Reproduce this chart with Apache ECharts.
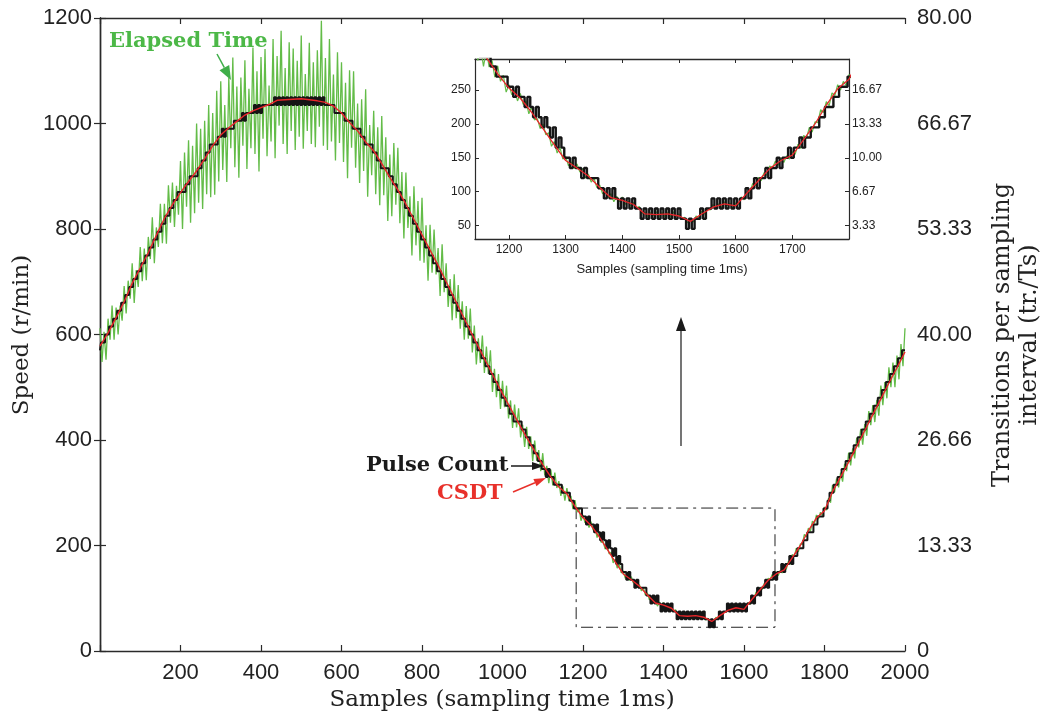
<!DOCTYPE html>
<html><head><meta charset="utf-8">
<script src="https://cdn.jsdelivr.net/npm/echarts@6/dist/echarts.min.js"></script>
<style>html,body{margin:0;padding:0;background:#fff}#c{width:1046px;height:717px}</style>
</head><body><div id="c"></div>
<script>
// ---- data (samples every STEP ms; CSDT every CSDT_STEP ms) ----
const STEP = 5;
const CSDT_STEP = 20;
const elapsedTime = [
612,548,605,552,630,590,655,590,651,600,655,626,692,640,702,668,735,660,722,690,766,
701,763,703,785,743,822,735,803,766,848,773,848,772,883,812,888,804,882,827,929,
800,945,842,968,812,958,830,1000,850,990,838,1005,866,1035,860,1020,865,1062,890,1080,
912,1035,889,1087,953,1125,917,1070,897,1087,958,1120,914,1066,953,1144,942,1099,909,1126,
971,1141,938,1072,966,1160,934,1128,996,1176,961,1105,942,1154,986,1142,950,1119,975,1167,
952,1094,986,1153,961,1116,955,1139,994,1195,958,1124,950,1160,966,1093,930,1135,963,1116,
927,1077,896,1101,954,1099,916,1038,887,1046,910,1065,861,997,902,1024,866,993,845,1014,
864,974,815,941,824,963,846,954,811,908,782,907,802,862,750,881,769,853,740,859,
736,807,702,808,717,799,714,764,673,771,680,735,652,705,627,714,631,694,611,663,
590,654,592,649,566,617,543,593,546,598,527,577,525,570,491,535,481,525,459,512,
462,503,441,475,423,467,424,460,405,429,387,425,383,407,360,399,361,381,341,375,
333,351,318,344,314,338,309,322,294,312,285,309,284,294,269,286,263,272,247,258,
243,250,234,245,229,234,215,225,206,208,193,200,184,187,167,174,157,165,148,152,
138,144,134,141,129,134,120,126,114,120,106,110,97,100,91,97,85,93,85,92,
81,86,78,84,76,78,68,69,63,69,64,70,63,69,63,69,63,70,63,67,
59,62,54,58,55,64,62,71,67,75,73,81,75,82,77,85,79,83,76,83,
81,92,88,100,98,112,109,121,116,128,124,138,135,145,139,150,143,153,148,159,
155,170,164,183,179,195,188,203,202,221,217,233,227,246,242,258,250,263,257,273,
267,290,281,315,301,327,310,338,321,355,341,376,352,384,365,404,386,421,391,430,
408,455,428,466,434,476,446,503,466,510,479,538,500,547,500,560,515,582,540,612
];
const pulseCount = [
570,585,585,600,600,615,615,630,630,645,645,660,660,675,675,690,690,705,705,720,720,
735,735,750,750,765,765,780,780,795,795,810,810,825,825,840,840,855,855,870,870,
870,870,885,885,900,900,900,900,915,915,930,930,945,945,960,960,960,960,975,975,
990,975,990,990,990,990,1005,1005,1005,1005,1020,1005,1020,1020,1020,1020,1035,1020,1035,1020,
1035,1035,1035,1035,1035,1035,1050,1035,1050,1035,1050,1035,1050,1035,1050,1035,1050,1035,1050,1035,
1050,1035,1050,1035,1050,1035,1050,1035,1050,1035,1050,1035,1035,1035,1035,1035,1020,1020,1020,1020,
1020,1005,1005,1005,1005,990,990,990,990,975,975,960,960,960,960,945,945,930,930,915,
915,915,915,900,900,885,885,870,870,855,855,840,840,825,825,810,810,795,795,780,
780,765,765,750,750,735,735,720,720,705,705,690,690,675,675,660,660,645,645,630,
630,615,615,600,600,585,585,570,570,555,555,540,540,525,525,510,510,495,495,480,
480,465,465,450,450,435,435,435,435,420,420,405,405,390,390,375,375,360,360,345,
345,330,345,330,330,315,315,315,315,300,300,300,300,285,285,270,270,270,270,255,
255,240,255,240,240,225,240,225,210,225,210,195,210,195,180,195,165,180,165,150,
150,135,150,135,135,120,135,120,120,120,120,105,105,90,105,90,105,90,75,90,
75,90,75,90,75,75,60,75,60,75,60,75,60,75,60,75,60,75,60,75,
60,60,45,60,45,60,60,75,60,75,75,90,75,90,75,90,75,90,75,90,
75,90,90,105,90,105,120,105,120,120,135,120,135,135,150,135,150,150,165,150,
165,165,180,165,180,180,195,195,195,210,210,225,225,225,240,240,255,255,255,270,
270,285,300,300,315,315,330,330,345,345,360,360,375,375,390,390,405,405,420,420,
435,435,450,450,465,465,480,480,495,495,510,510,525,525,540,540,555,555,570,570
];
const csdt = [
578,603,632,662,697,726,755,788,820,846,
869,890,910,933,958,978,992,1004,1016,1024,
1030,1036,1044,1045,1046,1047,1045,1043,1040,1033,
1020,1002,986,965,948,924,898,874,847,818,
789,760,731,700,669,638,607,577,547,517,
488,460,432,405,379,353,330,311,298,274,
253,238,217,193,169,146,135,123,106,91,
87,81,67,66,67,64,56,67,77,82,
79,98,116,134,146,154,177,200,228,252,
266,302,330,358,388,418,448,478,508,537,
567
];
const speedTicks = [0,200,400,600,800,1000,1200];
const transLabels = ['0','13.33','26.66','40.00','53.33','66.67','80.00'];
const insetXTicks = [1200,1300,1400,1500,1600,1700];
const insetSpeedTicks = [50,100,150,200,250];
const insetTransLabels = ['3.33','6.67','10.00','13.33','16.67'];
const zoomBoxX = [1183,1677];
const zoomBoxY = [45,271];

// ---- chart ----
const toPairs = (arr, step) => arr.map((v,i)=>[i*step, v]);
const gData = toPairs(elapsedTime, STEP);
const bData = toPairs(pulseCount, STEP);
const rData = toPairs(csdt, CSDT_STEP);

const AX = '#2a2a2a';
const SANS = 'Liberation Sans, Arial, Helvetica, sans-serif';
const SERIF = 'DejaVu Serif, serif';
const GREEN = '#63bc48', BLACK = '#151515', RED = '#e8262a';
const plain = v => String(v);

function xAx(grid, min, max, pos, opts){
  return Object.assign({gridIndex:grid, type:'value', min, max, position:pos,
    axisLine:{show:true,onZero:false,lineStyle:{color:AX,width:1.4}},
    splitLine:{show:false}}, opts);
}
const chart = echarts.init(document.getElementById('c'));
const mainTick = {inside:true,length:6,lineStyle:{color:AX,width:1.2}};
const insTick = {inside:true,length:4,lineStyle:{color:AX,width:1}};

function arrow(x1,y1,x2,y2,color,hl,hw,lw){
  const a=Math.atan2(y2-y1,x2-x1);
  const bx=x2-hl*Math.cos(a), by=y2-hl*Math.sin(a);
  const px=-Math.sin(a)*hw/2, py=Math.cos(a)*hw/2;
  return [{type:'line',z:100,shape:{x1,y1,x2:bx,y2:by},style:{stroke:color,lineWidth:lw}},
          {type:'polygon',z:100,shape:{points:[[x2,y2],[bx+px,by+py],[bx-px,by-py]]},style:{fill:color}}];
}
function txt(x,y,text,font,fill,rot,align){
  return {type:'text',z:100,x,y,rotation:rot||0,
    style:{text,font,fill,align:align||'center',verticalAlign:'middle',textAlign:align||'center',textVerticalAlign:'middle'}};
}

const option = {
  animation:false,
  backgroundColor:'#fff',
  grid:[
    {left:100, top:18, width:805, height:633},
    {left:475, top:59, width:374, height:180, show:true, backgroundColor:'#fff', borderWidth:0, z:5}
  ],
  xAxis:[
    xAx(0,0,2000,'bottom',{interval:200, axisTick:mainTick,
      axisLabel:{fontSize:22,color:'#222',fontFamily:SANS,margin:11,formatter:v=>v===0?'':String(v)}}),
    xAx(0,0,2000,'top',{interval:200, axisTick:mainTick, axisLabel:{show:false}}),
    xAx(1,1140,1800,'bottom',{axisTick:Object.assign({customValues:insetXTicks},insTick),
      axisLabel:{customValues:insetXTicks,fontSize:12,color:'#222',fontFamily:SANS,margin:5,formatter:plain}, z:6}),
    xAx(1,1140,1800,'top',{axisTick:Object.assign({customValues:insetXTicks},insTick), axisLabel:{show:false}, z:6})
  ],
  yAxis:[
    {gridIndex:0,type:'value',min:0,max:1200,interval:200,position:'left',
      axisLine:{show:true,lineStyle:{color:AX,width:1.4}},axisTick:mainTick,splitLine:{show:false},
      axisLabel:{fontSize:22,color:'#222',fontFamily:SANS,margin:8,formatter:plain}},
    {gridIndex:0,type:'value',min:0,max:1200,interval:200,position:'right',
      axisLine:{show:true,lineStyle:{color:AX,width:1.4}},axisTick:mainTick,splitLine:{show:false},
      axisLabel:{fontSize:22,color:'#222',fontFamily:SANS,margin:12,
        formatter:v=>{const i=speedTicks.indexOf(v);return i<0?'':transLabels[i];}}},
    {gridIndex:1,type:'value',min:30,max:296,position:'left',z:6,
      axisLine:{show:true,lineStyle:{color:AX,width:1.2}},splitLine:{show:false},
      axisTick:Object.assign({customValues:insetSpeedTicks},insTick),
      axisLabel:{customValues:insetSpeedTicks,fontSize:12,color:'#222',fontFamily:SANS,margin:4,formatter:plain}},
    {gridIndex:1,type:'value',min:30,max:296,position:'right',z:6,
      axisLine:{show:true,lineStyle:{color:AX,width:1.2}},splitLine:{show:false},
      axisTick:Object.assign({customValues:insetSpeedTicks},insTick),
      axisLabel:{customValues:insetSpeedTicks,fontSize:12,color:'#222',fontFamily:SANS,margin:3,
        formatter:v=>{const i=insetSpeedTicks.indexOf(v);return i<0?'':insetTransLabels[i];}}}
  ],
  series:[
    {type:'line',name:'Elapsed Time',xAxisIndex:0,yAxisIndex:0,data:gData,showSymbol:false,
      lineStyle:{color:GREEN,width:1.3},z:2},
    {type:'line',name:'Pulse Count',xAxisIndex:0,yAxisIndex:0,data:bData,showSymbol:false,step:'middle',
      lineStyle:{color:BLACK,width:2},z:3},
    {type:'line',name:'CSDT',xAxisIndex:0,yAxisIndex:0,data:rData,showSymbol:false,
      lineStyle:{color:RED,width:1.4},z:4,
      markArea:{silent:true,itemStyle:{color:'rgba(0,0,0,0)',borderColor:'#222',borderWidth:1,borderType:[12,5,3,5]},
        data:[[{coord:[zoomBoxX[0],zoomBoxY[1]]},{coord:[zoomBoxX[1],zoomBoxY[0]]}]]}},
    {type:'line',xAxisIndex:2,yAxisIndex:2,data:gData,showSymbol:false,clip:true,
      lineStyle:{color:GREEN,width:1.2},z:7},
    {type:'line',xAxisIndex:2,yAxisIndex:2,data:bData,showSymbol:false,clip:true,step:'middle',
      lineStyle:{color:BLACK,width:2.4},z:8},
    {type:'line',xAxisIndex:2,yAxisIndex:2,data:rData,showSymbol:false,clip:true,
      lineStyle:{color:RED,width:1.3},z:9}
  ],
  graphic:[
    txt(22,335,'Speed (r/min)','23px '+SERIF,'#222',Math.PI/2),
    txt(502,700,'Samples (sampling time 1ms)','23px '+SERIF,'#222'),
    txt(1003,335,'Transitions per sampling','24px '+SERIF,'#222',Math.PI/2),
    txt(1030,335,'interval (tr./Ts)','24px '+SERIF,'#222',Math.PI/2),
    txt(662,269,'Samples (sampling time 1ms)','13px '+SANS,'#222'),
    txt(109,42,'Elapsed Time','bold 21px '+SERIF,'#4cb847',0,'left'),
    txt(366,466,'Pulse Count','bold 21px '+SERIF,'#1a1a1a',0,'left'),
    txt(437,494,'CSDT','bold 21px '+SERIF,'#e8302a',0,'left'),
    ...arrow(217,54,231,80,'#3fae49',14,11,1.5),
    ...arrow(511,466,544,466,'#1a1a1a',12,8,1.5),
    ...arrow(513,492,546,478,'#e8302a',12,8,1.5),
    ...arrow(681,446,681,317,'#1a1a1a',14,10,1.2)
  ]
};
chart.setOption(option);
</script>
</body></html>
